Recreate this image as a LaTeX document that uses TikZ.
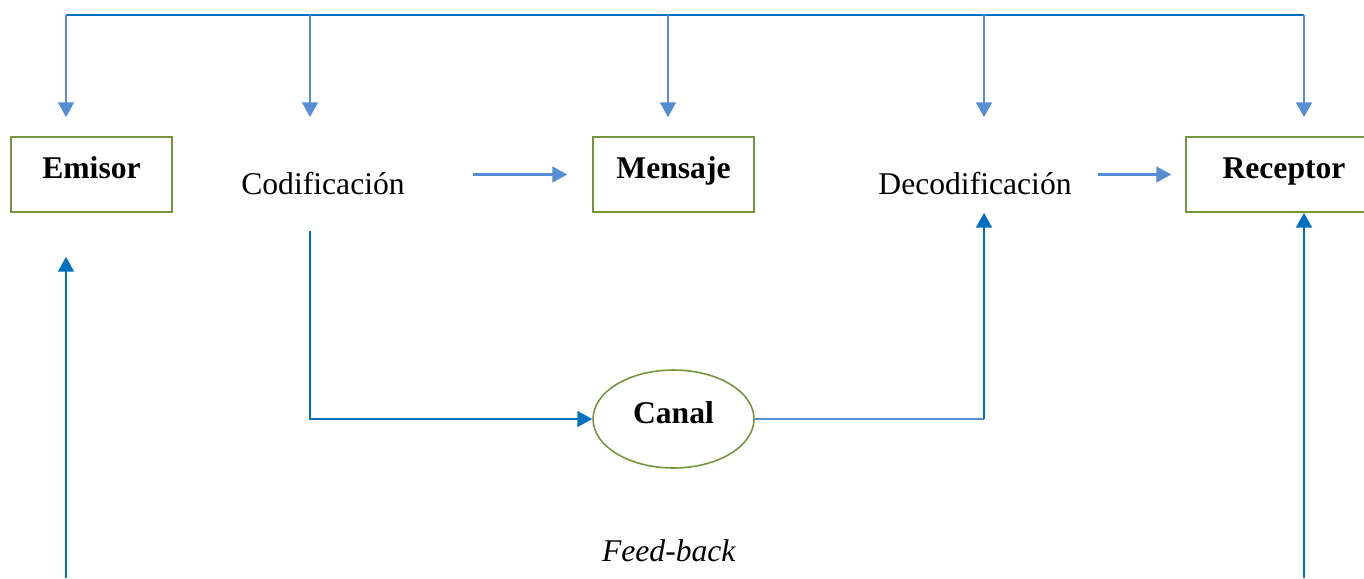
\documentclass[tikz,border=0pt]{standalone}
\usepackage{fontspec}
\setmainfont{Liberation Serif}
\usetikzlibrary{arrows.meta,shapes.geometric}
\definecolor{azul}{RGB}{0,112,192}
\definecolor{celeste}{RGB}{85,142,213}
\definecolor{oliva}{RGB}{119,147,60}
\newcommand{\letra}{\fontsize{18}{22}\selectfont}
\tikzset{
    caja/.style={draw=oliva,line width=.9pt,minimum width=3.22cm,minimum height=1.5cm,
        text height=13pt,text depth=8.4pt,font=\letra\bfseries},
    punta/.style={-{Triangle[width=9pt,length=8.5pt]}},
    flecha/.style={draw=celeste,line width=1.3pt,punta},
    linea/.style={draw=azul,line width=1.3pt},
    subida/.style={linea,punta},
}

\begin{document}
\begin{tikzpicture}[x=.02cm,y=-.02cm,font=\letra]
    \useasboundingbox (0,0) rectangle (1364,578);

    % cajas
    \node[caja] (emisor) at (91.5,174.5) {Emisor};
    \node[caja] (mensaje) at (673.5,174.5) {Mensaje};
    \node[caja,minimum width=3.92cm] (receptor) at (1284,174.5) {Receptor};
    \node[caja,ellipse,minimum height=1.96cm] (canal) at (673.5,419) {Canal};

    % textos
    \node (codif) at (323,184) {Codificación};
    \node (decod) at (975,184) {Decodificación};
    \node (feed) at (669,551) {\textit{Feed-back}};

    % linea de arriba
    \coordinate (t1) at (66,15);
    \coordinate (t2) at (310,15);
    \coordinate (t3) at (668,15);
    \coordinate (t4) at (984,15);
    \coordinate (t5) at (1304,15);
    \draw[linea] (t1) -- (t5);
    \foreach \t in {t1,t2,t3,t4,t5}
        \draw[flecha,shorten >=.38cm] (\t) -- (\t |- emisor.north);

    % horizontales
    \draw[flecha,shorten <=1.24cm,shorten >=.5cm] (mensaje.west -| codif.east) -- (mensaje.west);
    \draw[flecha,shorten <=.4cm,shorten >=.28cm] (receptor.west -| decod.east) -- (receptor.west);

    % canal
    \draw[subida,shorten <=.6cm] (codif.south -| t2) |- (canal.west);
    \draw[celeste,line width=.8pt] (canal.east) -- (canal.east -| t4);
    \draw[subida] (canal.east -| t4) -- (t4 |- emisor.south);

    % feed-back
    \coordinate (b1) at (66,578);
    \coordinate (b2) at (1304,578);
    \draw[subida,shorten >=.88cm] (b1) -- (b1 |- emisor.south);
    \draw[subida] (b2) -- (b2 |- receptor.south);
\end{tikzpicture}
\end{document}
